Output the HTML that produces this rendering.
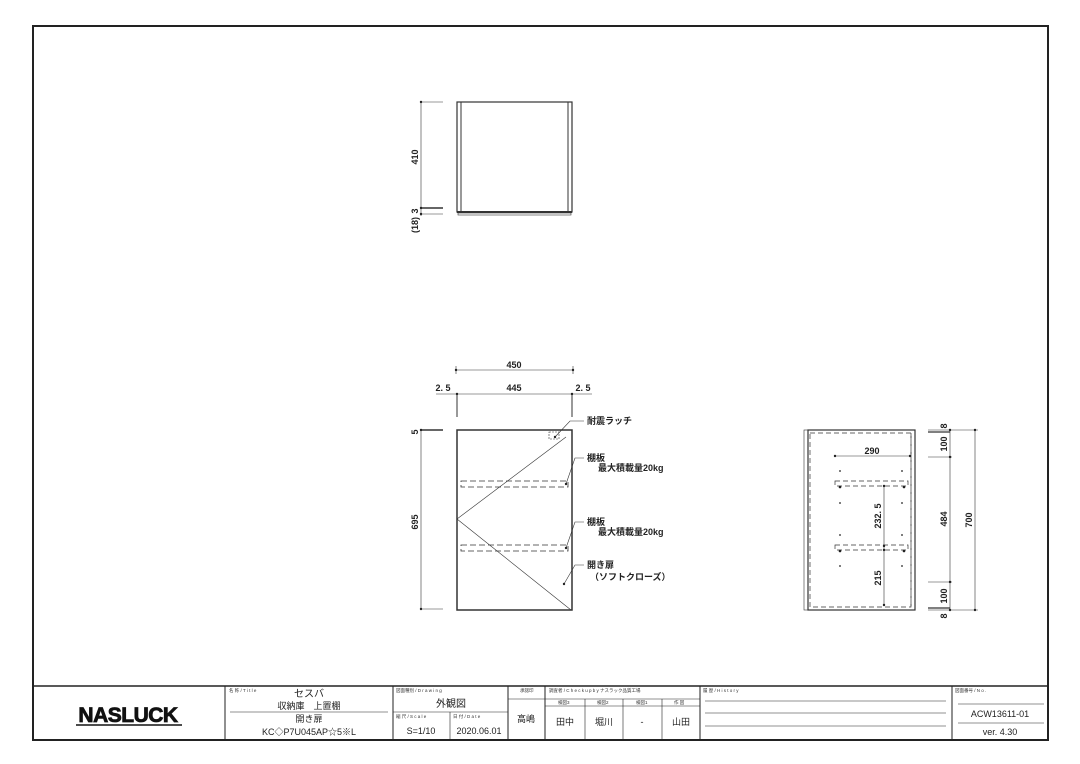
<!DOCTYPE html>
<html><head><meta charset="utf-8"><style>
html,body{margin:0;padding:0;background:#fff;}
svg{display:block;font-family:"Liberation Sans","Noto Sans CJK JP",sans-serif;}
</style></head><body>
<svg width="1080" height="764" viewBox="0 0 1080 764" xmlns="http://www.w3.org/2000/svg">
<rect x="0" y="0" width="1080" height="764" fill="#fff"/>
<rect x="33" y="26" width="1015" height="714" fill="none" stroke="#222" stroke-width="2"/>
<g stroke="#333" fill="none" stroke-width="1">
<rect x="457" y="102" width="115" height="110" stroke-width="1.2"/>
<line x1="461" y1="102" x2="461" y2="211"/><line x1="568" y1="102" x2="568" y2="211"/>
<line x1="457" y1="212" x2="572" y2="212" stroke-width="2"/>
<rect x="458" y="213" width="113" height="2" stroke-width="0.6"/>
<line x1="421" y1="102" x2="421" y2="216" stroke-width="0.6"/>
<line x1="421" y1="102" x2="443" y2="102" stroke-width="0.6"/>
<line x1="421" y1="208" x2="443" y2="208" stroke-width="1.5"/>
<line x1="421" y1="214" x2="443" y2="214" stroke-width="0.6"/>
<rect x="457" y="430" width="115" height="180" stroke-width="1.5"/>
<line x1="457" y1="519" x2="566" y2="437" stroke-width="0.6"/>
<line x1="457" y1="519" x2="571" y2="610" stroke-width="0.6"/>
<rect x="549" y="432" width="10" height="7" stroke-width="0.6" stroke-dasharray="2,1"/>
<rect x="461" y="481" width="107" height="6" stroke-dasharray="6,3" stroke-width="0.8"/>
<rect x="461" y="545" width="107" height="6" stroke-dasharray="6,3" stroke-width="0.8"/>
<line x1="456" y1="370" x2="573" y2="370" stroke-width="0.6"/>
<line x1="436" y1="394" x2="592" y2="394" stroke-width="0.6"/>
<line x1="457" y1="394" x2="457" y2="417"/><line x1="572" y1="394" x2="572" y2="417"/>
<line x1="456" y1="366" x2="456" y2="374" stroke-width="0.6"/><line x1="573" y1="366" x2="573" y2="374" stroke-width="0.6"/>
<line x1="421" y1="430" x2="421" y2="610" stroke-width="0.6"/>
<line x1="421" y1="430" x2="443" y2="430" stroke-width="1.5"/>
<line x1="421" y1="609" x2="443" y2="609" stroke-width="0.6"/>
<polyline points="555,437 570,421 584,421" stroke-width="0.6"/>
<polyline points="566,484 575,458 584,458" stroke-width="0.6"/>
<polyline points="566,548 575,522 584,522" stroke-width="0.6"/>
<polyline points="564,584 575,565 584,565" stroke-width="0.6"/>
<rect x="804" y="430" width="4" height="180" stroke-width="0.6"/>
<rect x="808" y="430" width="107" height="180" stroke-width="1.2"/>
<rect x="810" y="433" width="101" height="174" stroke-dasharray="5,3" stroke-width="0.7"/>
<line x1="911" y1="433" x2="911" y2="607" stroke-dasharray="5,3" stroke-width="0.7"/>
<rect x="835" y="481" width="73" height="5" stroke-dasharray="5,3" stroke-width="0.7"/>
<rect x="835" y="545" width="73" height="5" stroke-dasharray="5,3" stroke-width="0.7"/>
<line x1="835" y1="456" x2="910" y2="456" stroke-width="0.6"/>
<line x1="884" y1="486" x2="884" y2="605" stroke-width="0.6"/>
<line x1="950" y1="430" x2="950" y2="610" stroke-width="0.6"/>
<line x1="975" y1="430" x2="975" y2="610" stroke-width="0.6"/>
<line x1="928" y1="430" x2="978" y2="430" stroke-width="0.6"/>
<line x1="928" y1="432" x2="950" y2="432" stroke-width="1.2"/>
<line x1="928" y1="457" x2="952" y2="457" stroke-width="0.6"/>
<line x1="928" y1="582" x2="952" y2="582" stroke-width="0.6"/>
<line x1="928" y1="608" x2="950" y2="608" stroke-width="1.2"/>
<line x1="928" y1="610" x2="978" y2="610" stroke-width="0.6"/>
</g>
<g fill="#222">
<circle cx="421" cy="102" r="1.2"/><circle cx="421" cy="208" r="1.2"/><circle cx="421" cy="214" r="1.2"/>
<circle cx="421" cy="430" r="1.2"/><circle cx="421" cy="609" r="1.2"/>
<circle cx="456" cy="370" r="1.2"/><circle cx="573" cy="370" r="1.2"/>
<circle cx="457" cy="394" r="1.2"/><circle cx="572" cy="394" r="1.2"/>
<circle cx="555" cy="437" r="1.2"/><circle cx="566" cy="484" r="1.2"/><circle cx="566" cy="548" r="1.2"/><circle cx="564" cy="584" r="1.2"/>
<circle cx="835" cy="456" r="1.2"/><circle cx="910" cy="456" r="1.2"/>
<circle cx="884" cy="486" r="1.2"/><circle cx="884" cy="546" r="1.2"/><circle cx="884" cy="550" r="1.2"/><circle cx="884" cy="605" r="1.2"/>
<circle cx="950" cy="430" r="1.2"/><circle cx="950" cy="457" r="1.2"/><circle cx="950" cy="582" r="1.2"/><circle cx="950" cy="610" r="1.2"/>
<circle cx="975" cy="430" r="1.2"/><circle cx="975" cy="610" r="1.2"/>
<circle cx="840" cy="471" r="0.9"/><circle cx="902" cy="471" r="0.9"/><circle cx="840" cy="503" r="0.9"/><circle cx="902" cy="503" r="0.9"/>
<circle cx="840" cy="535" r="0.9"/><circle cx="902" cy="535" r="0.9"/><circle cx="840" cy="566" r="0.9"/><circle cx="902" cy="566" r="0.9"/>
<circle cx="840" cy="487" r="1.3"/><circle cx="904" cy="487" r="1.3"/><circle cx="840" cy="551" r="1.3"/><circle cx="904" cy="551" r="1.3"/>
</g>
<g font-size="9" fill="#222" font-weight="bold">
<text transform="translate(418,157) rotate(-90)" text-anchor="middle">410</text>
<text transform="translate(418,211) rotate(-90)" text-anchor="middle">3</text>
<text transform="translate(418,225) rotate(-90)" text-anchor="middle">(18)</text>
<text transform="translate(418,432) rotate(-90)" text-anchor="middle">5</text>
<text transform="translate(418,522) rotate(-90)" text-anchor="middle">695</text>
<text x="514" y="368" text-anchor="middle">450</text>
<text x="514" y="391" text-anchor="middle">445</text>
<text x="443" y="391" text-anchor="middle">2. 5</text>
<text x="583" y="391" text-anchor="middle">2. 5</text>
<text x="587" y="424">耐震ラッチ</text>
<text x="587" y="461">棚板</text><text x="598" y="471">最大積載量20kg</text>
<text x="587" y="525">棚板</text><text x="598" y="535">最大積載量20kg</text>
<text x="587" y="568">開き扉</text><text x="590" y="580">（ソフトクローズ）</text>
<text x="872" y="454" text-anchor="middle">290</text>
<text transform="translate(881,516) rotate(-90)" text-anchor="middle">232. 5</text>
<text transform="translate(881,578) rotate(-90)" text-anchor="middle">215</text>
<text transform="translate(947,426) rotate(-90)" text-anchor="middle">8</text>
<text transform="translate(947,444) rotate(-90)" text-anchor="middle">100</text>
<text transform="translate(947,519) rotate(-90)" text-anchor="middle">484</text>
<text transform="translate(947,596) rotate(-90)" text-anchor="middle">100</text>
<text transform="translate(947,616) rotate(-90)" text-anchor="middle">8</text>
<text transform="translate(972,520) rotate(-90)" text-anchor="middle">700</text>
</g>
<g stroke="#222" fill="none" stroke-width="1">
<line x1="33" y1="686" x2="1048" y2="686" stroke-width="1.5"/>
<line x1="225" y1="686" x2="225" y2="740"/>
<line x1="393" y1="686" x2="393" y2="740"/>
<line x1="508" y1="686" x2="508" y2="740"/>
<line x1="545" y1="686" x2="545" y2="740"/>
<line x1="700" y1="686" x2="700" y2="740"/>
<line x1="952" y1="686" x2="952" y2="740"/>
<line x1="230" y1="712" x2="388" y2="712" stroke-width="0.6"/>
<line x1="393" y1="712" x2="508" y2="712" stroke-width="0.6"/>
<line x1="450" y1="712" x2="450" y2="740" stroke-width="0.6"/>
<line x1="508" y1="699" x2="700" y2="699" stroke-width="0.6"/>
<line x1="545" y1="706" x2="700" y2="706" stroke-width="0.6"/>
<line x1="585" y1="699" x2="585" y2="740" stroke-width="0.6"/>
<line x1="623" y1="699" x2="623" y2="740" stroke-width="0.6"/>
<line x1="662" y1="699" x2="662" y2="740" stroke-width="0.6"/>
<line x1="705" y1="701" x2="946" y2="701" stroke-width="0.6"/>
<line x1="705" y1="713" x2="946" y2="713" stroke-width="0.6"/>
<line x1="705" y1="726" x2="946" y2="726" stroke-width="0.6"/>
<line x1="958" y1="704" x2="1044" y2="704" stroke-width="0.6"/>
<line x1="958" y1="723" x2="1044" y2="723" stroke-width="0.6"/>
</g>
<text x="128" y="722" text-anchor="middle" font-size="21" font-weight="bold" fill="#111" stroke="#111" stroke-width="0.8" letter-spacing="-0.5">NASLUCK</text>
<line x1="76" y1="725" x2="182" y2="725" stroke="#111" stroke-width="1.5"/>
<g font-size="4.5" fill="#333">
<text x="229" y="692">名 称 / T i t l e</text>
<text x="396" y="692">図面種別 / D r a w i n g</text>
<text x="396" y="718">縮 尺 / S c a l e</text>
<text x="453" y="718">日 付 / D a t e</text>
<text x="520" y="692">承認印</text>
<text x="549" y="692">調査者 / C h e c k  u p  b y  ナスラック品質工場</text>
<text x="558" y="704">検図3</text><text x="597" y="704">検図2</text><text x="636" y="704">検図1</text><text x="674" y="704">作 図</text>
<text x="703" y="692">履 歴 / H i s t o r y</text>
<text x="955" y="692">図面番号 / N o .</text>
</g>
<g font-size="9" fill="#222" text-anchor="middle">
<text x="309" y="697" font-size="10">セスバ</text>
<text x="309" y="709">収納庫　上置棚</text>
<text x="309" y="722">開き扉</text>
<text x="309" y="735">KC◇P7U045AP☆5※L</text>
<text x="451" y="707" font-size="10">外観図</text>
<text x="421" y="734">S=1/10</text>
<text x="479" y="734">2020.06.01</text>
<text x="526" y="722">高嶋</text>
<text x="565" y="725">田中</text>
<text x="604" y="725">堀川</text>
<text x="642" y="725">-</text>
<text x="681" y="725">山田</text>
<text x="1000" y="717">ACW13611-01</text>
<text x="1000" y="735">ver. 4.30</text>
</g>
</svg>
</body></html>
